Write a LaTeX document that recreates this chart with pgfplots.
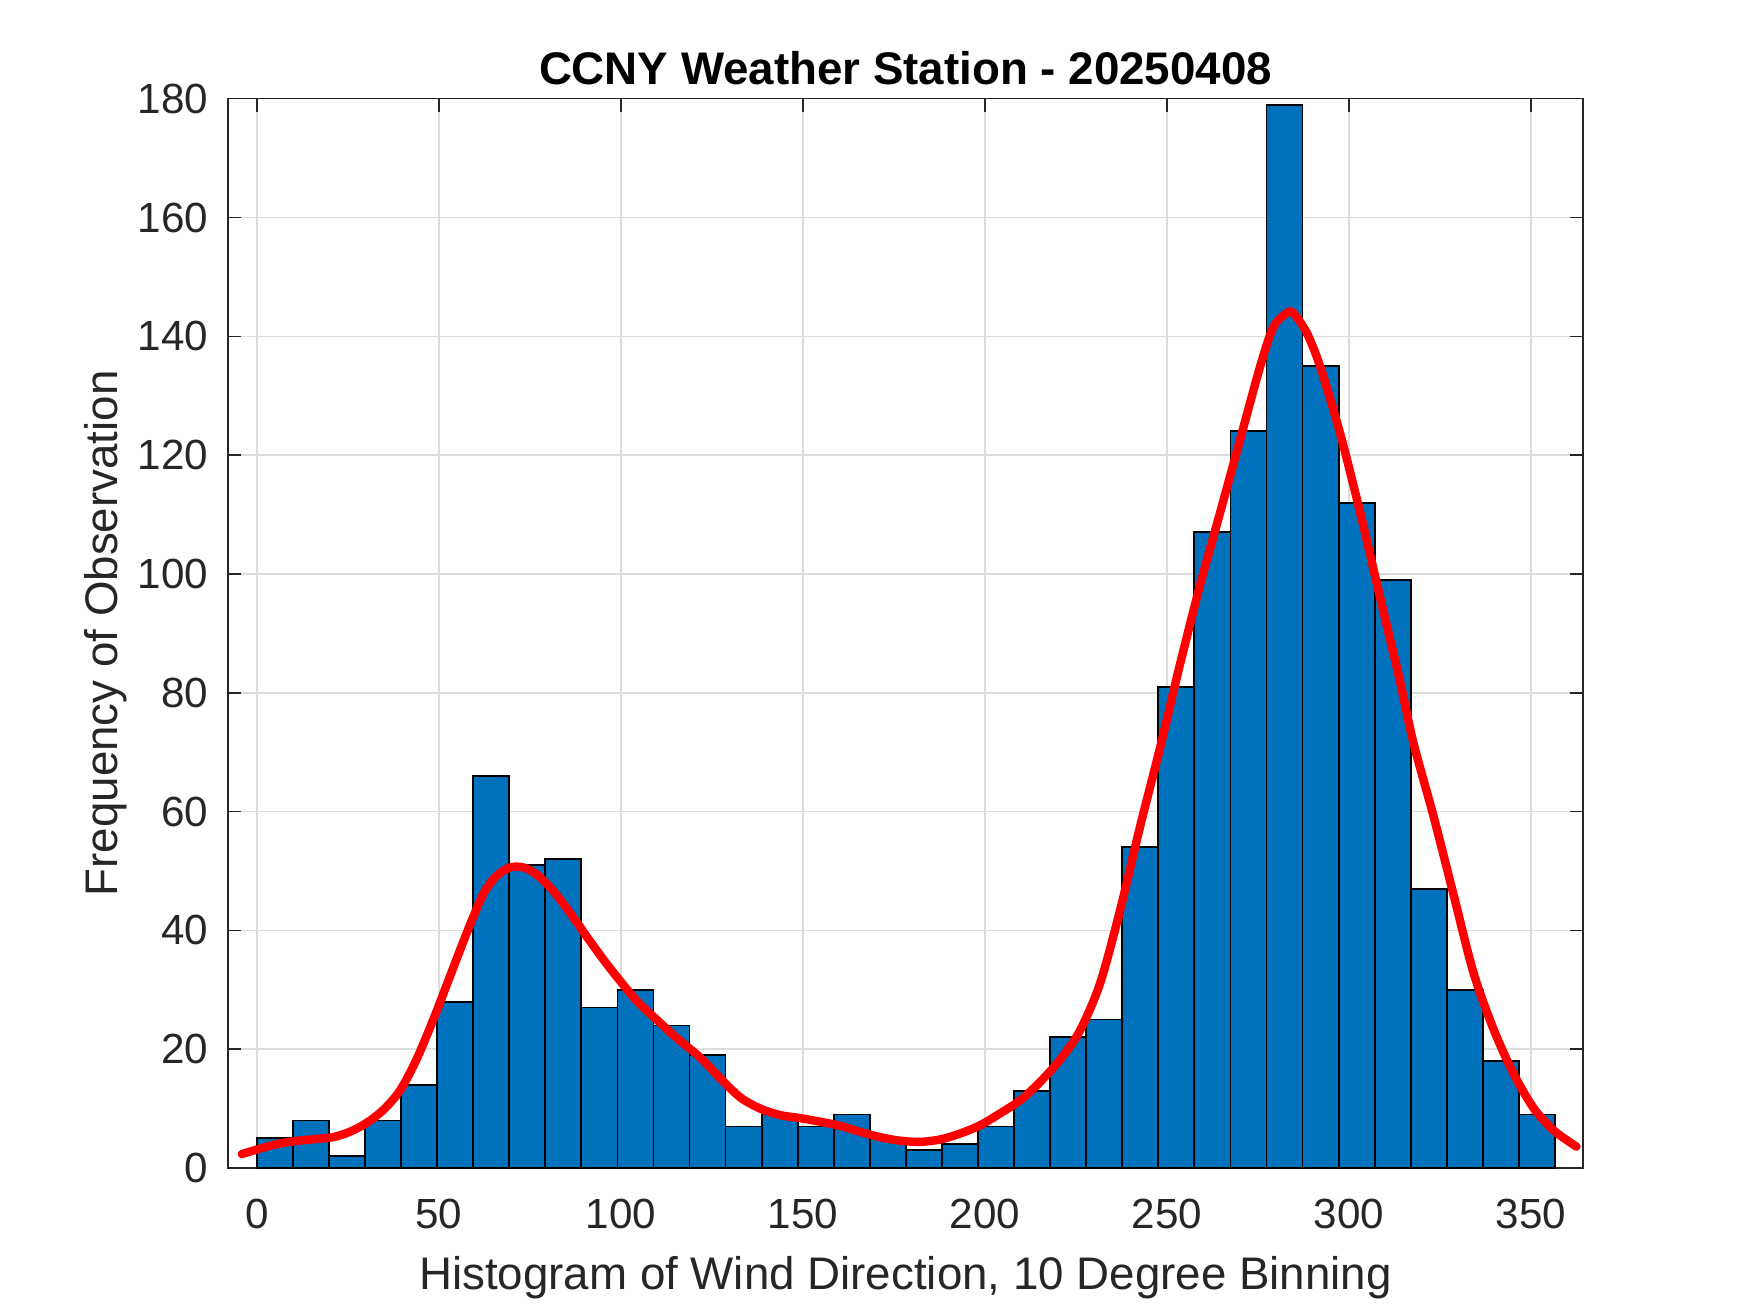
\documentclass[border=0pt]{standalone}
\usepackage{pgfplots}
\pgfplotsset{compat=1.18}
\usepackage{fontspec}
\setmainfont{Liberation Sans}
\definecolor{barblue}{HTML}{0072BD}
\definecolor{axgray}{HTML}{262626}
\definecolor{gridgray}{HTML}{DCDCDC}
\pgfplotsset{layers/mylayers/.define layer set={axis background,axis grid,main,axis ticks,axis lines,axis tick labels,axis descriptions,axis foreground}{}}
\begin{document}
\begin{tikzpicture}
\begin{axis}[
 set layers=mylayers,
 at={(0,0)}, anchor=south west,
 scale only axis, width=135.5mm, height=106.93mm,
 xmin=-7.9, xmax=364.3, ymin=0, ymax=180,
 xtick={0,50,...,350}, ytick={0,20,...,180},
 tick align=inside, major tick length=1.3mm,
 grid=major, grid style={gridgray, line width=0.45pt},
 axis line style={axgray, line width=0.45pt},
 every tick/.style={axgray, line width=0.45pt},
 tick label style={font=\fontsize{12}{14}\selectfont, text=axgray},
 /pgf/number format/assume math mode=true,
 xticklabel style={inner sep=0pt, yshift=-3mm, anchor=north},
 yticklabel style={inner sep=0pt, xshift=-1.9mm, anchor=east},
 xlabel={Histogram of Wind Direction, 10 Degree Binning},
 ylabel={Frequency of Observation},
 label style={font=\fontsize{13}{15}\selectfont, text=axgray},
 xlabel style={at={(axis description cs:0.5,-0.11316)}, anchor=base, inner sep=0pt},
 ylabel style={at={(axis description cs:-0.0819,0.5)}, anchor=base, inner sep=0pt},
 title={CCNY Weather Station - 20250408},
 title style={at={(axis description cs:0.5,0.99395)}, anchor=base, inner sep=0pt, font=\bfseries\fontsize{13}{15}\selectfont, text=black},
]
\addplot[ybar interval, fill=barblue, draw=black, line width=0.5pt] coordinates {
(0,5) (9.906,8) (19.811,2) (29.717,8) (39.622,14) (49.528,28) (59.433,66) (69.339,51) (79.244,52)
(89.150,27) (99.056,30) (108.961,24) (118.867,19) (128.772,7) (138.678,9) (148.583,7) (158.489,9)
(168.394,5) (178.300,3) (188.206,4) (198.111,7) (208.017,13) (217.922,22) (227.828,25) (237.733,54)
(247.639,81) (257.544,107) (267.450,124) (277.356,179) (287.261,135) (297.167,112) (307.072,99)
(316.978,47) (326.883,30) (336.789,18) (346.694,9) (356.6,9)
};
\addplot[red, line width=2.4pt, smooth, tension=0.5, line join=round, line cap=round] coordinates {
(-4.1,2.35) (0,3.1) (4.6,3.9) (10.1,4.5) (16.5,4.9) (21.0,5.2) (25.6,6.1) (30.2,7.6) (34.8,9.8)
(39.4,13.1) (43.9,18.3) (48.5,25.0) (53.1,32.3) (57.7,39.6) (62.2,46.1) (65.9,49.2) (69.6,50.6)
(73.2,50.6) (76.9,49.4) (81.5,46.6) (86.0,43.0) (90.6,39.0) (95.2,35.1) (99.8,31.5) (104.4,28.1)
(109.8,25.0) (115.3,21.9) (121.8,18.6) (127.3,15.1) (132.8,11.9) (138.3,10.0) (143.8,8.9)
(149.3,8.4) (154.7,7.8) (160.2,7.1) (165.7,6.1) (171.2,5.2) (176.7,4.6) (182.2,4.4) (187.7,4.8)
(193.2,5.8) (198.7,7.2) (204.2,9.2) (209.7,11.4) (215.2,14.5) (220.6,18.2) (226.0,23.0) (231.6,31.0)
(237.1,43.3) (242.6,57.4) (248.1,70.7) (253.6,84.8) (259.1,98.1) (264.6,110.3) (270.1,122.6)
(275.6,134.9) (279.2,141.5) (282.9,143.9) (284.7,143.9) (288.4,140.6) (292.1,134.9) (297.6,123.6)
(303.1,110.3) (308.5,96.2) (314.0,82.0) (317.7,71.6) (323.2,59.3) (328.7,46.1) (334.2,32.9)
(339.7,23.4) (345.2,15.9) (350.6,10.2) (356.1,6.4) (362.5,3.6)
};
\end{axis}
\pgfresetboundingbox
\path (-22.8mm,-14.5mm) rectangle (152.2mm,116.8mm);
\end{tikzpicture}
\end{document}
